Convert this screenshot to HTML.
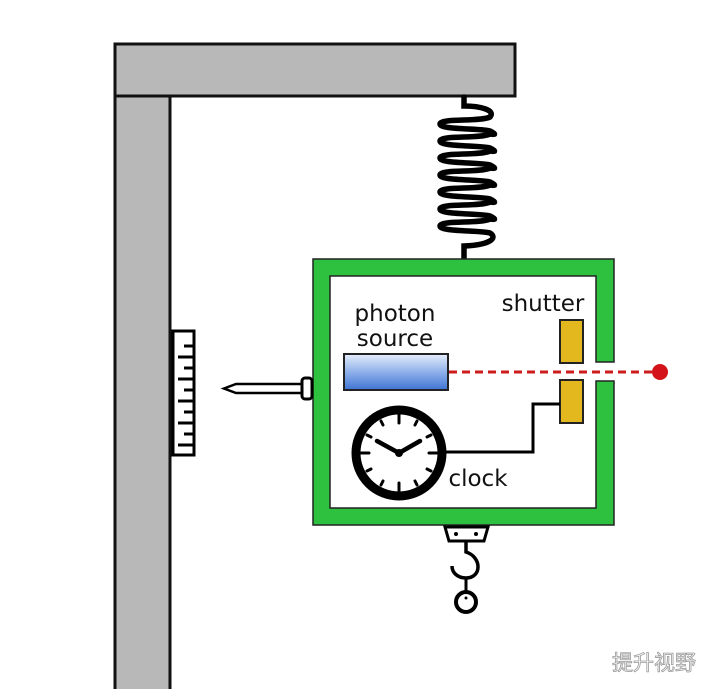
<!DOCTYPE html>
<html><head><meta charset="utf-8"><style>
html,body{margin:0;padding:0;background:#fff;}
svg{display:block;}
text{font-family:"DejaVu Sans","Liberation Sans",sans-serif;}
</style></head><body>
<svg width="710" height="689" viewBox="0 0 710 689" xmlns="http://www.w3.org/2000/svg">
<defs>
<linearGradient id="blue" x1="0" y1="0" x2="0" y2="1">
<stop offset="0" stop-color="#e6eefb"/><stop offset="0.5" stop-color="#8fb0ea"/><stop offset="1" stop-color="#3f74d4"/>
</linearGradient>
</defs>
<rect width="710" height="689" fill="#fff"/>
<!-- frame -->
<rect x="115" y="44" width="400" height="52" fill="#b8b8b8" stroke="#111" stroke-width="3"/>
<rect x="115" y="96" width="55" height="600" fill="#b8b8b8" stroke="#111" stroke-width="3"/>
<!-- spring -->
<g fill="none" stroke="#000" stroke-width="5.5" stroke-linecap="round">
<path d="M464,97 L464,106 C480,106 496,110 490,117"/>
<path d="M490,117 C480,122 440,118 440,124 C440,130 480,128 490,131 C496,134 496,135 490,134"/>
<path d="M490,134 C480,139 440,135 440,141 C440,147 480,145 490,148 C496,151 496,152 490,151"/>
<path d="M490,151 C480,156 440,152 440,158 C440,164 480,162 490,165 C496,168 496,169 490,168"/>
<path d="M490,168 C480,173 440,169 440,175 C440,181 480,179 490,182 C496,185 496,186 490,185"/>
<path d="M490,185 C480,190 440,186 440,192 C440,198 480,196 490,199 C496,202 496,203 490,202"/>
<path d="M490,202 C480,207 440,203 440,209 C440,215 480,213 490,216 C496,219 496,220 490,219"/>
<path d="M490,219 C480,224 440,220 440,226 C440,232 480,230 490,233 C498,238 490,245 464,246 L464,258"/>
</g>
<!-- green box -->
<path d="M313,259 H614 V362 H596 V276 H330 V508 H596 V381 H614 V525 H313 Z" fill="#2ec03f" stroke="#222" stroke-width="1.5"/>
<!-- shutters -->
<rect x="560" y="320" width="23" height="43" fill="#e2b81e" stroke="#222" stroke-width="2"/>
<rect x="560" y="380" width="23" height="43" fill="#e2b81e" stroke="#222" stroke-width="2"/>
<!-- photon source -->
<rect x="344" y="354" width="104" height="36" fill="url(#blue)" stroke="#222" stroke-width="2"/>
<line x1="449" y1="372" x2="652" y2="372" stroke="#cc1c1c" stroke-width="3" stroke-dasharray="8,5"/>
<circle cx="660" cy="372" r="8" fill="#d4121a"/>
<!-- wire -->
<polyline points="445,452 533,452 533,404 560,404" fill="none" stroke="#000" stroke-width="3"/>
<!-- clock -->
<circle cx="399" cy="453" r="43" fill="#fff" stroke="#000" stroke-width="9"/>
<g stroke="#000" stroke-width="3" stroke-linecap="round">
<line x1="399" y1="415" x2="399" y2="423"/><line x1="399" y1="483" x2="399" y2="491"/>
<line x1="361" y1="453" x2="369" y2="453"/><line x1="429" y1="453" x2="437" y2="453"/>
<line x1="417" y1="421" x2="415" y2="425"/><line x1="431" y1="435" x2="427" y2="437"/>
<line x1="431" y1="471" x2="427" y2="469"/><line x1="417" y1="485" x2="415" y2="481"/>
<line x1="381" y1="421" x2="383" y2="425"/><line x1="367" y1="435" x2="371" y2="437"/>
<line x1="367" y1="471" x2="371" y2="469"/><line x1="381" y1="485" x2="383" y2="481"/>
</g>
<g stroke="#000" stroke-width="4.5" stroke-linecap="round">
<line x1="399" y1="453" x2="377" y2="441"/><line x1="399" y1="453" x2="420" y2="441"/>
</g>
<circle cx="399" cy="453" r="4" fill="#000"/>
<!-- labels -->
<text x="395" y="321" font-size="23" text-anchor="middle" fill="#111">photon</text>
<text x="395" y="346" font-size="23" text-anchor="middle" fill="#111">source</text>
<text x="543" y="311" font-size="23" text-anchor="middle" fill="#111">shutter</text>
<text x="478" y="486" font-size="23" text-anchor="middle" fill="#111">clock</text>
<!-- ruler -->
<rect x="173" y="331" width="21" height="124" fill="#fff" stroke="#000" stroke-width="3"/>
<g stroke="#000" stroke-width="3">
<line x1="194" y1="346" x2="184" y2="346"/><line x1="194" y1="357" x2="178" y2="357"/>
<line x1="194" y1="368" x2="184" y2="368"/><line x1="194" y1="379" x2="178" y2="379"/>
<line x1="194" y1="390" x2="184" y2="390"/><line x1="194" y1="401" x2="178" y2="401"/>
<line x1="194" y1="412" x2="184" y2="412"/><line x1="194" y1="423" x2="178" y2="423"/>
<line x1="194" y1="434" x2="184" y2="434"/><line x1="194" y1="445" x2="178" y2="445"/>
</g>
<!-- needle -->
<path d="M224,388.5 L236,384 H303 V393 H236 Z" fill="#fff" stroke="#000" stroke-width="2.5"/>
<rect x="302" y="378" width="10" height="21" rx="3" fill="#fff" stroke="#000" stroke-width="3"/>
<!-- hook -->
<path d="M445,527 H488 L484,541 H449 Z" fill="#fff" stroke="#000" stroke-width="3"/>
<circle cx="456" cy="534" r="2" fill="#000"/><circle cx="476" cy="534" r="2" fill="#000"/>
<path d="M466,541 V552 C482,557 482,578 466,578 C458,578 452,573 452,566" fill="none" stroke="#000" stroke-width="3.5"/>
<line x1="466" y1="578" x2="466" y2="592" stroke="#000" stroke-width="3"/>
<circle cx="466" cy="602" r="10" fill="#fff" stroke="#000" stroke-width="4"/>
<circle cx="466" cy="598" r="1.5" fill="#000"/>
<!-- watermark -->
<text x="654" y="670" font-size="21" text-anchor="middle" fill="#fff" stroke="#999" stroke-width="0.8" style='font-family:"Noto Sans CJK SC",sans-serif'>提升视野</text>
</svg>
</body></html>
